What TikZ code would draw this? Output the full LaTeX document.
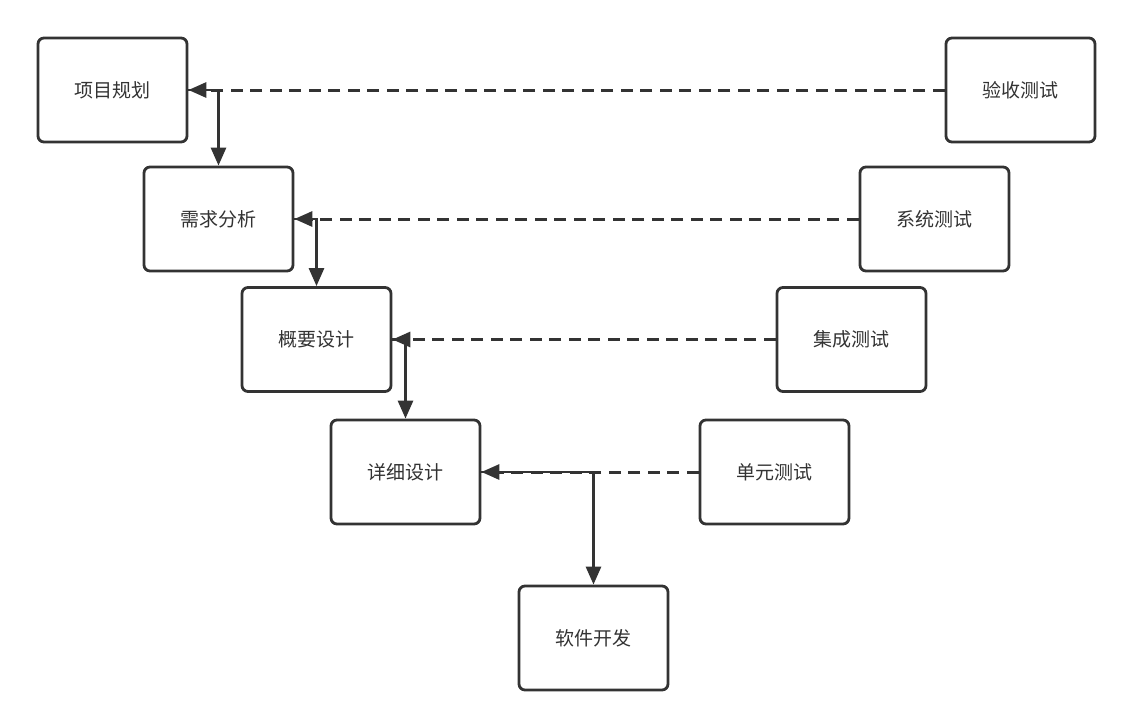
\documentclass[tikz,border=0pt]{standalone}
\usepackage{fontspec}
\newfontfamily\cjk{Noto Sans CJK SC}
\usetikzlibrary{arrows.meta}
\definecolor{ink}{HTML}{333333}
\tikzset{
  box/.style={draw=ink, line width=2.8pt, rounded corners=6pt, minimum width=149pt, minimum height=104pt, inner sep=0pt, text=ink, font=\cjk\fontsize{19pt}{22pt}\selectfont, fill=white},
  flow/.style={draw=ink, line width=2.8pt, -{Triangle[length=18pt,width=15pt]}},
  back/.style={draw=ink, line width=3pt, dash pattern=on 12pt off 7.5pt, -{Triangle[length=18pt,width=15pt]}}
}
\begin{document}
\begin{tikzpicture}[x=1pt,y=-1pt]
\useasboundingbox (0,0) rectangle (1133,728);
\node[box] (xm) at (112.5,90) {项目规划};
\node[box] (xq) at (218.5,219) {需求分析};
\node[box] (gy) at (316.5,339.5) {概要设计};
\node[box] (xx) at (405.5,472) {详细设计};
\node[box] (rj) at (593.5,638) {软件开发};
\node[box] (ys) at (1020.5,90) {验收测试};
\node[box] (xt) at (934.5,219) {系统测试};
\node[box] (jc) at (851.5,339.5) {集成测试};
\node[box] (dy) at (774.5,472) {单元测试};
\draw[back] (ys.west) -- (xm.east);
\draw[back] (xt.west) -- (xq.east);
\draw[back] (jc.west) -- (gy.east);
\draw[back] (dy.west) -- (xx.east);
\draw[flow] (xm.east) -| (xq.north);
\draw[flow] (xq.east) -| (gy.north);
\draw[flow] (gy.east) -| (xx.north);
\draw[flow] (xx.east) -| (rj.north);
\end{tikzpicture}
\end{document}
